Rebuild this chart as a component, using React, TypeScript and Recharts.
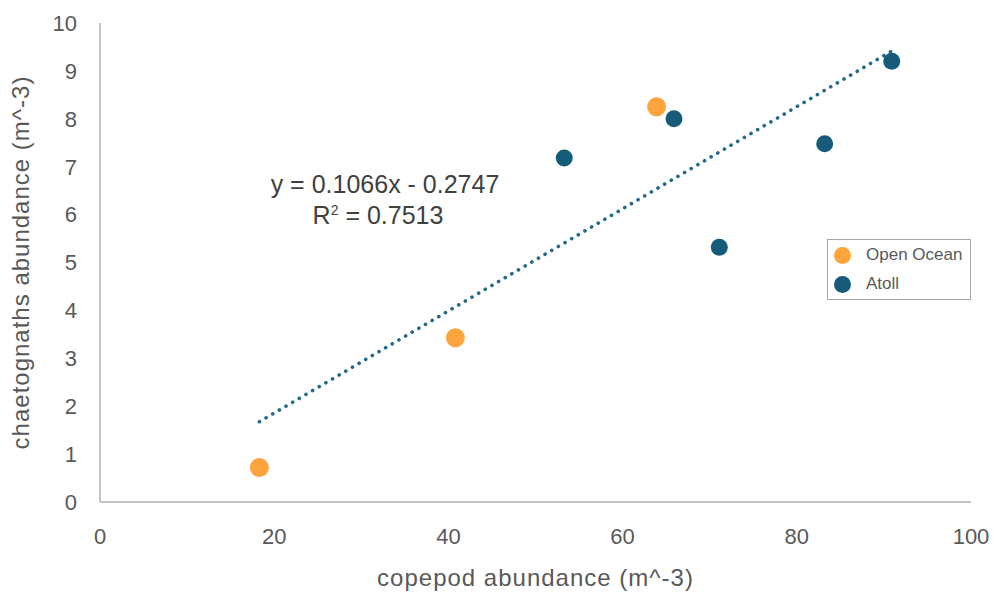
import React from 'react';
import { ScatterChart, Scatter, XAxis, YAxis, Label } from 'recharts';

// copepod vs chaetognath abundance
const openOceanX = [18.3, 40.8, 63.9];
const openOceanY = [0.72, 3.43, 8.25];
const atollX = [53.3, 65.9, 71.1, 83.2, 90.9];
const atollY = [7.18, 8.0, 5.32, 7.48, 9.2];

const xTicks = [0, 20, 40, 60, 80, 100];
const yTicks = [0, 1, 2, 3, 4, 5, 6, 7, 8, 9, 10];

// linear trendline as printed on the chart
const trendSlope = 0.1066;
const trendIntercept = -0.2747;
const trendRange = [18.3, 90.9];

const ORANGE = '#FDA43C';
const BLUE = '#175B7A';
const TREND = '#226A8A';
const TEXT = '#595959';
const AXIS = '#C4C4C4';
const FONT = '"Liberation Sans", Arial, sans-serif';

const openOcean = openOceanX.map((x, i) => ({ x, y: openOceanY[i] }));
const atoll = atollX.map((x, i) => ({ x, y: atollY[i] }));
const trend = trendRange.map((x) => ({ x, y: trendSlope * x + trendIntercept }));

const dot = (color: string, r: number) => (props: any) => {
  const { cx, cy } = props;
  if (cx == null || cy == null) return null;
  return <circle cx={cx} cy={cy} r={r} fill={color} />;
};

const App: React.FC = () => {
  return (
    <div style={{ position: 'absolute', left: 0, top: 0, width: 995, height: 594, background: '#fff', fontFamily: FONT }}>
      <ScatterChart width={995} height={594} margin={{ top: 23, right: 24, left: 0, bottom: 0 }}>
        <XAxis
          type="number"
          dataKey="x"
          domain={[0, 100]}
          ticks={xTicks}
          height={92}
          tickLine={false}
          tickSize={0}
          tickMargin={26}
          axisLine={{ stroke: AXIS, strokeWidth: 2 }}
          tick={{ fill: TEXT, fontSize: 22, fontFamily: FONT }}
        >
          <Label
            content={(props: any) => {
              const vb = props.viewBox;
              return (
                <text
                  x={vb.x + vb.width / 2}
                  y={586}
                  textAnchor="middle"
                  fill={TEXT}
                  fontSize={24}
                  fontFamily={FONT}
                  letterSpacing={1}
                >
                  copepod abundance (m^-3)
                </text>
              );
            }}
          />
        </XAxis>
        <YAxis
          type="number"
          dataKey="y"
          domain={[0, 10]}
          ticks={yTicks}
          width={100}
          tickLine={false}
          tickSize={0}
          tickMargin={23}
          axisLine={{ stroke: AXIS, strokeWidth: 2 }}
          tick={{ fill: TEXT, fontSize: 22, fontFamily: FONT }}
        >
          <Label
            content={(props: any) => {
              const vb = props.viewBox;
              const cy = vb.y + vb.height / 2;
              return (
                <text
                  x={29}
                  y={cy}
                  transform={`rotate(-90, 29, ${cy})`}
                  textAnchor="middle"
                  fill={TEXT}
                  fontSize={24}
                  fontFamily={FONT}
                  letterSpacing={1}
                >
                  chaetognaths abundance (m^-3)
                </text>
              );
            }}
          />
        </YAxis>
        <Scatter
          name="trend"
          data={trend}
          isAnimationActive={false}
          shape={() => null}
          line={{ stroke: TREND, strokeWidth: 3.6, strokeDasharray: '0.1 7.6', strokeLinecap: 'round' }}
        />
        <Scatter name="Open Ocean" data={openOcean} isAnimationActive={false} shape={dot(ORANGE, 9.5)} />
        <Scatter name="Atoll" data={atoll} isAnimationActive={false} shape={dot(BLUE, 8.5)} />
      </ScatterChart>

      {/* trendline equation */}
      <div
        style={{
          position: 'absolute',
          left: 245,
          top: 169,
          width: 280,
          textAlign: 'center',
          color: '#404040',
          fontSize: 25,
          lineHeight: '31px',
        }}
      >
        <div>y = 0.1066x - 0.2747</div>
        <div style={{ marginLeft: -14 }}>
          R<sup style={{ fontSize: 14, verticalAlign: 'top', lineHeight: '20px' }}>2</sup> = 0.7513
        </div>
      </div>

      {/* legend */}
      <div
        style={{
          position: 'absolute',
          left: 827,
          top: 239,
          width: 144,
          height: 61,
          border: '1.5px solid #A6A6A6',
          boxSizing: 'border-box',
          color: TEXT,
          fontSize: 17,
        }}
      >
        {[
          { name: 'Open Ocean', color: ORANGE },
          { name: 'Atoll', color: BLUE },
        ].map((item, i) => (
          <div key={item.name} style={{ position: 'absolute', left: 6, top: 5 + i * 29, height: 20, display: 'flex', alignItems: 'center' }}>
            <span style={{ width: 17, height: 17, borderRadius: '50%', background: item.color, display: 'inline-block' }} />
            <span style={{ marginLeft: 15 }}>{item.name}</span>
          </div>
        ))}
      </div>
    </div>
  );
};

export default App;
